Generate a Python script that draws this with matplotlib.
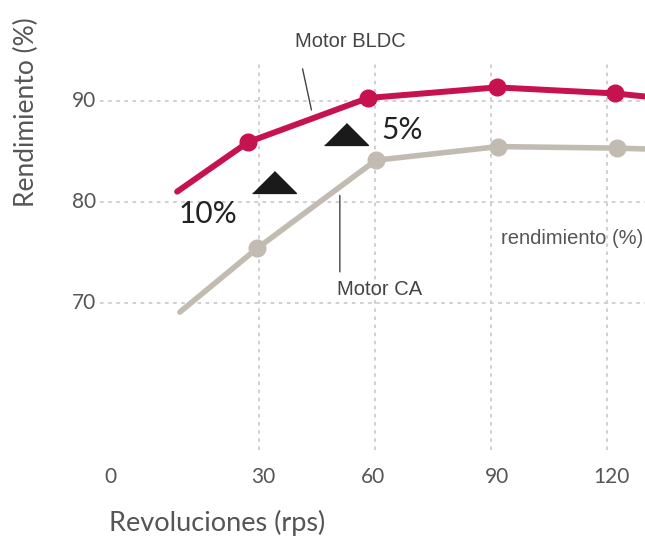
import matplotlib
matplotlib.use('Agg')
import matplotlib.pyplot as plt

# datos de las curvas (rps, rendimiento %)
bldc_x = [8.7, 27.1, 58.1, 91.4, 122.0, 131.0]
bldc_y = [81.0, 85.9, 90.25, 91.3, 90.7, 90.35]
ca_x = [9.4, 29.4, 60.1, 91.8, 122.4, 131.0]
ca_y = [69.1, 75.4, 84.1, 85.45, 85.3, 85.2]

# ticks
x_ticks = [30, 60, 90, 120]
x_labels = ['0', '30', '60', '90', '120']
x_label_pos = [-8.5, 31.0, 59.5, 91.5, 121.0]
y_ticks = [70, 80, 90]

# triangulos de diferencia
tri_x = [33.7, 52.3]
tri_y = [82.0, 86.7]
diff_labels = ['10%', '5%']
diff_x = [16.7, 66.9]
diff_y = [78.8, 87.1]

red = '#c6124f'
beige = '#c2bbb1'
grid_c = '#cdcdcd'
txt = '#555555'
narrow = ['Liberation Sans Narrow', 'Liberation Sans']

fig = plt.figure(figsize=(6.45, 5.48), dpi=100)
ax = fig.add_axes([0, 0, 1, 1])
ax.set_xlim(-37.13, 129.75)
ax.set_ylim(45.8, 99.93)
ax.axis('off')

# rejilla punteada
ax.vlines(x_ticks, 55.5, 94.0, colors=grid_c, linestyles=(0, (2, 2.5)), linewidth=1.3, zorder=1)
ax.hlines(y_ticks, -11.2, 129.75, colors=grid_c, linestyles=(0, (2, 2.5)), linewidth=1.3, zorder=1)

# curvas
ax.plot(bldc_x, bldc_y, color=red, linewidth=4.3, solid_capstyle='round',
        marker='o', markevery=[1, 2, 3, 4], markersize=12, zorder=3)
ax.plot(ca_x, ca_y, color=beige, linewidth=4.0, solid_capstyle='round',
        marker='o', markevery=[1, 2, 3, 4], markersize=12, zorder=3)

# triangulos
tri = [(-1, -0.5), (1, -0.5), (0, 0.5)]
ax.plot(tri_x, tri_y, linestyle='none', marker=tri, markersize=31.5, color='#1a1a1a', zorder=4)
for lab, xx, yy in zip(diff_labels, diff_x, diff_y):
    ax.text(xx, yy, lab, fontsize=21.5, family='Lato', color='#222222', ha='center', va='center')

# etiquetas de ejes
for lab, xx in zip(x_labels, x_label_pos):
    ax.text(xx, 52.8, lab, fontsize=15, family='Lato', color=txt, ha='center', va='center')
for yy in y_ticks:
    ax.text(-12.3, yy, str(yy), fontsize=15, family='Lato', color=txt, ha='right', va='center')

ax.text(-30.4, 88.86, 'Rendimiento (%)', rotation=90, fontsize=19, family='Lato',
        color=txt, ha='center', va='center')
ax.text(19.0, 48.27, 'Revoluciones (rps)', fontsize=19.5, family='Lato',
        color=txt, ha='center', va='center')

# anotaciones
ax.text(53.4, 95.8, 'Motor BLDC', fontsize=14.5, family=narrow,
        color='#444444', ha='center', va='center')
ax.annotate('', xy=(43.6, 88.8), xytext=(41.0, 93.4),
            arrowprops=dict(arrowstyle='-', color='#444444', lw=1.0))
ax.text(61.1, 71.3, 'Motor CA', fontsize=14.5, family=narrow,
        color='#444444', ha='center', va='center')
ax.annotate('', xy=(50.8, 72.8), xytext=(50.8, 80.9),
            arrowprops=dict(arrowstyle='-', color='#444444', lw=1.0))
ax.text(110.9, 76.4, 'rendimiento (%)', fontsize=14.5, family=narrow,
        color='#555555', ha='center', va='center')

fig.savefig('out.png', dpi=100)
